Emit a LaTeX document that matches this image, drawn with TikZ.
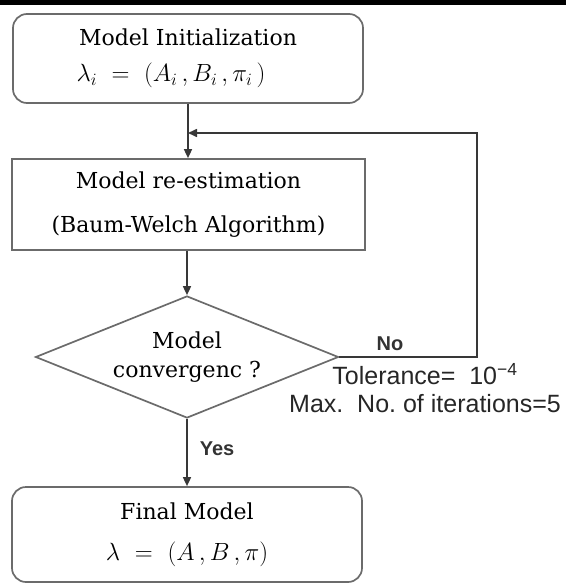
\documentclass[tikz,border=0pt]{standalone}
\usepackage{fontspec}
\setmainfont{DejaVu Serif}
\newfontfamily\arialf{Liberation Sans}
\usetikzlibrary{shapes.geometric,arrows.meta}
\begin{document}
\begin{tikzpicture}[x=1pt,y=-1pt,
  boxline/.style={draw=black!58, line width=1.7pt},
  roundbox/.style={boxline, rounded corners=14pt, minimum width=350pt, inner sep=0pt, align=center},
  rectbox/.style={boxline, minimum width=353pt, minimum height=91pt, inner sep=0pt, align=center},
  decision/.style={boxline, diamond, shape aspect=2.48, minimum width=303pt, minimum height=122pt, inner sep=0pt, align=center},
  conn/.style={draw=black!78, line width=1.6pt},
  arr/.style={conn, -{Triangle[length=9pt,width=8pt]}},
  lbl/.style={font=\arialf\bfseries\fontsize{20}{22}\selectfont, text=black!80, inner sep=0pt},
  note/.style={font=\arialf\fontsize{25}{28}\selectfont, text=black!85, inner sep=0pt, align=center}
]
\useasboundingbox (0,0) rectangle (566,583);
\fill[black] (0,0) rectangle (566,5);

\node[roundbox, minimum height=89pt, font=\fontsize{22}{36}\selectfont] (init) at (188,58.5)
  {Model Initialization\\ \fontsize{24}{36}\selectfont$\lambda_i\ =\ (A_i\,,B_i\,,\pi_i\,)$\hspace*{34pt}};
\node[rectbox, font=\fontsize{22}{44}\selectfont] (reest) at (188.5,204.5)
  {Model re-estimation\\ (Baum-Welch Algorithm)};
\node[decision, font=\fontsize{22}{29}\selectfont] (conv) at (187,357)
  {Model\\ convergenc ?};
\node[roundbox, minimum height=95pt, font=\fontsize{22}{41}\selectfont] (final) at (187,534.5)
  {Final Model\\ \fontsize{25}{41}\selectfont$\lambda\ =\ (A\,,B\,,\pi)$};

\coordinate (join) at (188,133);
\coordinate (fbx) at (477,133);

\draw[arr] (init.south) -- (init.south |- reest.north);
\draw[arr] (reest.south -| conv.north) -- (conv.north);
\draw[arr] (conv.south) -- (conv.south |- final.north);
\draw[arr] (conv.east) -| (fbx) -- (join);

\node[lbl] (no) at (390,344) {No};
\node[lbl] (yes) at (217,449) {Yes};
\node[note] (tol) at (425,388) {Tolerance=\ \ 10\textsuperscript{−4}\\ Max.\ \ No.\ of iterations=5};
\end{tikzpicture}
\end{document}
